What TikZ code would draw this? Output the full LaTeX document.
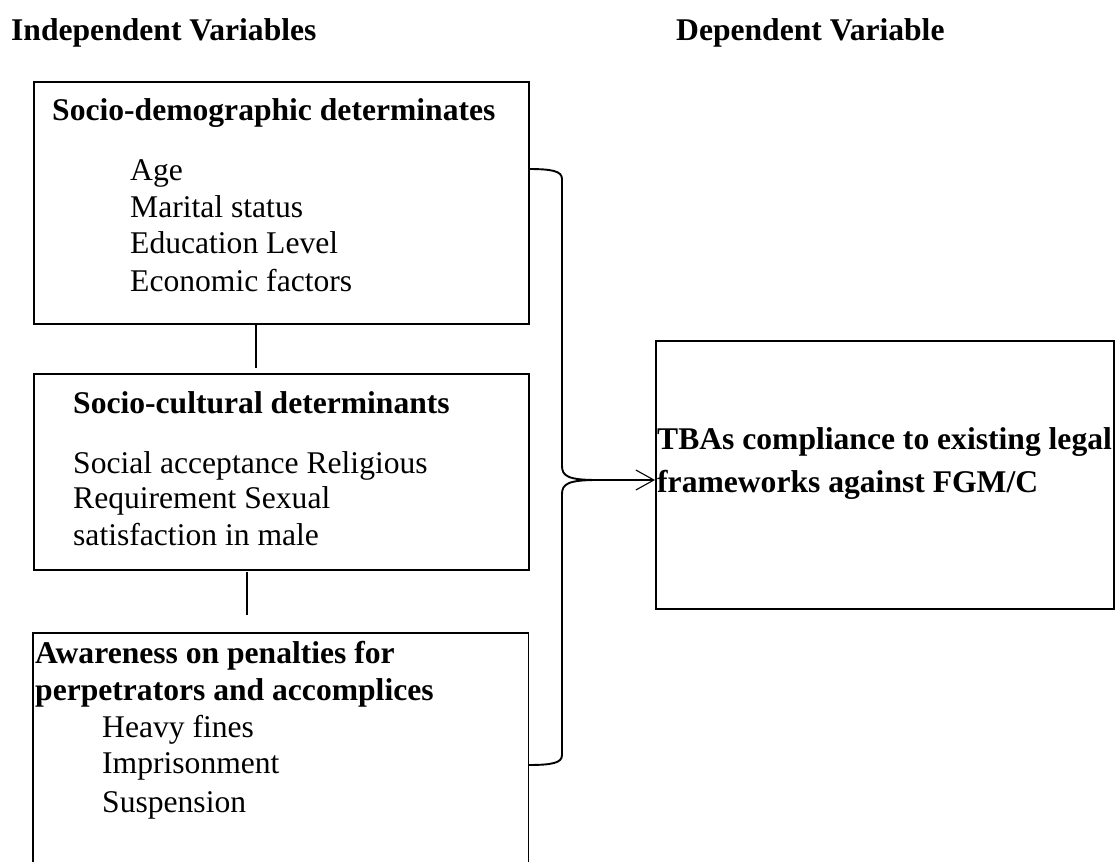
\documentclass[tikz,border=0pt]{standalone}
\usepackage{fontspec}
\setmainfont{Liberation Serif}
\usetikzlibrary{arrows.meta}
\begin{document}
\begin{tikzpicture}[x=1pt,y=-1pt,
  box/.style={draw, line width=1.7pt, inner sep=0pt, anchor=north west},
  openbox/.style={inner sep=0pt, anchor=north west},
  txt/.style={anchor=base west, inner sep=0pt, font=\fontsize{31.6}{36}\selectfont},
  hd/.style={anchor=base west, inner sep=0pt, font=\fontsize{31.6}{36}\selectfont\bfseries},
  link/.style={line width=1.1pt},
  brace/.style={line width=1.9pt},
  arr/.style={line width=1.1pt, -{Straight Barb[length=18pt,width=20pt,line width=1.1pt]}}]
\useasboundingbox (0,0) rectangle (1118,862);

% headers
\node[hd] (hIndep) at (11,40) {Independent Variables};
\node[hd] (hDep) at (676,40) {Dependent Variable};

% box 1
\node[box, minimum width=495pt, minimum height=242pt] (b1) at (33,81) {};
\node[hd] (b1h) at (52,120) {Socio-demographic determinates};
\node[txt] (b1a) at (130,180) {Age};
\node[txt] (b1b) at (130,217) {Marital status};
\node[txt] (b1c) at (130,253) {Education Level};
\node[txt] (b1d) at (130,291) {Economic factors};

% box 2
\node[box, minimum width=495pt, minimum height=196pt] (b2) at (33,373) {};
\node[hd] (b2h) at (73,413) {Socio-cultural determinants};
\node[txt] (b2a) at (73,473) {Social acceptance Religious};
\node[txt] (b2b) at (73,508) {Requirement Sexual};
\node[txt] (b2c) at (73,545) {satisfaction in male};

% box 3 (open at the bottom edge)
\node[openbox, minimum width=495pt, minimum height=229pt] (b3) at (33,633) {};
\draw[line width=1.7pt] (b3.south west) -- (b3.north west) -- (b3.north east) -- (b3.south east);
\node[hd] (b3h1) at (35,663) {Awareness on penalties for};
\node[hd] (b3h2) at (35,700) {perpetrators and accomplices};
\node[txt] (b3a) at (102,737) {Heavy fines};
\node[txt] (b3b) at (102,773) {Imprisonment};
\node[txt] (b3c) at (102,812) {Suspension};

% dependent box
\node[box, minimum width=458pt, minimum height=268pt] (dep) at (655,340) {};
\node[hd] (depa) at (657,449) {TBAs compliance to existing legal};
\node[hd] (depb) at (657,492) {frameworks against FGM/C};

% connectors between boxes
\coordinate (c1a) at (256,325);
\coordinate (c1b) at (256,368);
\coordinate (c2a) at (247,572);
\coordinate (c2b) at (247,615);
\draw[link] (c1a) -- (c1b);
\draw[link] (c2a) -- (c2b);

% brace
\coordinate (brTop) at (528,169);
\coordinate (brBot) at (528,765);
\coordinate (brTip) at (597,480);
\draw[brace] (brTop) .. controls (552,169) and (562,171) .. (562,179)
  -- (562,466) .. controls (562,476) and (568,480) .. (brTip)
  (brTip) .. controls (568,480) and (562,484) .. (562,494)
  -- (562,755) .. controls (562,763) and (552,765) .. (brBot);

% arrow
\draw[arr] (brTip) -- (dep.west |- brTip);
\end{tikzpicture}
\end{document}
